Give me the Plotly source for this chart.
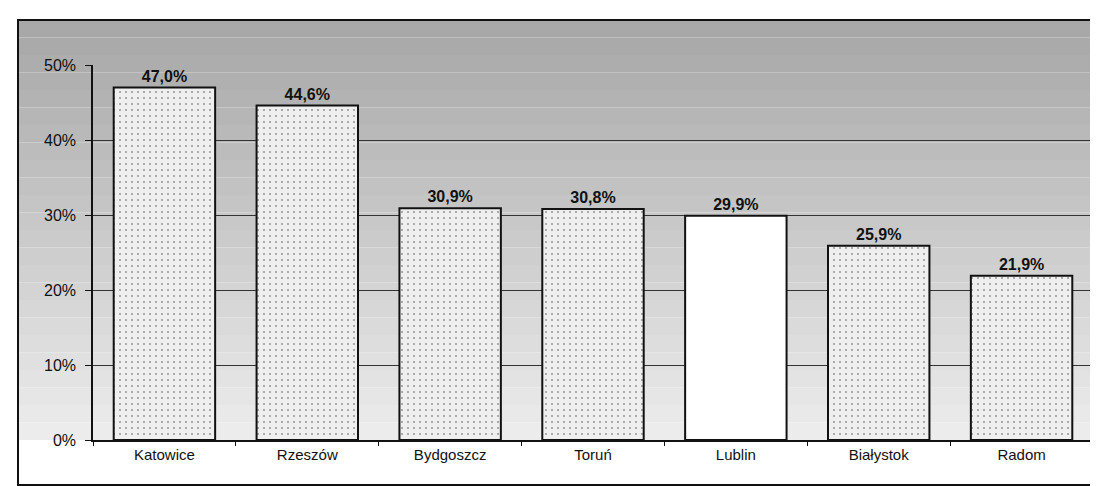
import plotly.graph_objects as go

miasta = ["Katowice", "Rzeszów", "Bydgoszcz", "Toruń", "Lublin", "Białystok", "Radom"]
udzial = [47.0, 44.6, 30.9, 30.8, 29.9, 25.9, 21.9]
podpisy = ["47,0%", "44,6%", "30,9%", "30,8%", "29,9%", "25,9%", "21,9%"]
yticks = [0, 10, 20, 30, 40, 50]
yticks_txt = ["0%", "10%", "20%", "30%", "40%", "50%"]

# Lublin wyrozniony biala kolumna
kolory = ["#efefef" if m != "Lublin" else "white" for m in miasta]
wzory = ["." if m != "Lublin" else "" for m in miasta]

fig = go.Figure()
fig.add_trace(go.Bar(
    x=miasta, y=udzial, text=podpisy, textposition="outside", cliponaxis=False,
    textfont=dict(family="Liberation Sans, Arial", size=16, color="#111", weight="bold"),
    marker=dict(color=kolory, line=dict(color="#111", width=2),
                pattern=dict(shape=wzory, fgcolor="#999", size=6, solidity=0.1)),
    width=0.71,
))

# tlo: szary gradient (skan), od ciemnego u gory do jasnego przy osi
n = 24
top, bottom = 1.12, 0.0
c0, c1 = 168, 236
shapes = []
for i in range(n):
    y1 = top - (top - bottom) * i / n
    y0 = top - (top - bottom) * (i + 1) / n
    c = int(c0 + (c1 - c0) * i / (n - 1))
    shapes.append(dict(type="rect", xref="paper", yref="paper", x0=-0.075, x1=1.008,
                       y0=y0, y1=y1, fillcolor=f"rgb({c},{c},{c})", line_width=0, layer="below"))
# ramka
shapes.append(dict(type="rect", xref="paper", yref="paper", x0=-0.075, x1=1.008,
                   y0=-0.12, y1=1.12, line=dict(color="#111", width=2), layer="above"))

fig.update_layout(
    width=1098, height=486,
    margin=dict(l=85, r=13, t=57, b=54),
    paper_bgcolor="white", plot_bgcolor="rgba(0,0,0,0)",
    showlegend=False, bargap=0.29, shapes=shapes,
    font=dict(family="Liberation Sans, Arial", size=14, color="#111"),
)
fig.update_yaxes(range=[0, 50], tickvals=yticks, ticktext=yticks_txt,
                 showgrid=True, gridcolor="#333", gridwidth=1,
                 showline=True, linecolor="#111", linewidth=1.5,
                 ticks="outside", ticklen=6, tickcolor="#111", ticklabelstandoff=6,
                 tickfont=dict(family="Liberation Sans, Arial", size=16, color="#111"),
                 zeroline=False)
fig.update_xaxes(showline=True, linecolor="#111", linewidth=1.5,
                 ticks="outside", ticklen=4, tickcolor="#111", tickson="boundaries",
                 tickfont=dict(family="Liberation Sans, Arial", size=15, color="#111"))

fig.write_html("out.html")
